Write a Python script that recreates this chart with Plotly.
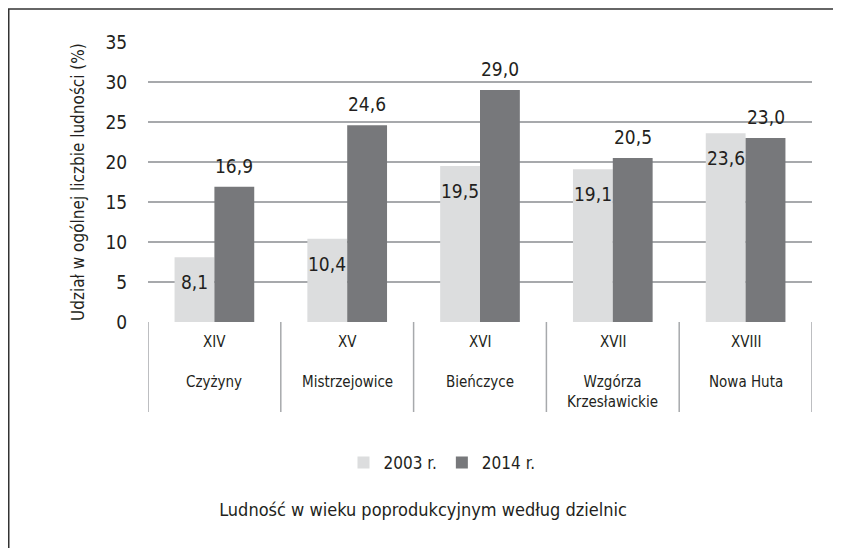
import plotly.graph_objects as go

roman = ["XIV", "XV", "XVI", "XVII", "XVIII"]
districts = ["Czyżyny", "Mistrzejowice", "Bieńczyce", "Wzgórza<br>Krzesławickie", "Nowa Huta"]
vals_2003 = [8.1, 10.4, 19.5, 19.1, 23.6]
vals_2014 = [16.9, 24.6, 29.0, 20.5, 23.0]
series_names = ["2003 r.", "2014 r."]
y_ticks = [0, 5, 10, 15, 20, 25, 30, 35]
y_title = "Udział w ogólnej liczbie ludności (%)"
chart_title = "Ludność w wieku poprodukcyjnym według dzielnic"

FONT = "Liberation Sans Narrow, DejaVu Sans Condensed, sans-serif"
TXT = "#231f20"
LIGHT = "#dcddde"
DARK = "#77787b"
GRID = "#a7a9ac"

W, H = 841, 548
OFF = 8  # page body margin of the browser
# target screen pixel positions of the plot area
SL, SR, ST, SB = 148, 812, 42, 322
L, R, T, B = SL - OFF, SR - OFF, ST - OFF, SB - OFF
pw, ph = R - L, B - T


def px_x(p):  # screen x -> paper x
    return (p - OFF - L) / pw


def px_y(p):  # screen y -> paper y
    return (B - (p - OFF)) / ph


BARGAP = 0.4
cats = list(range(len(roman)))

fig = go.Figure()
fig.add_trace(go.Bar(x=cats, y=vals_2003, name=series_names[0], marker_color=LIGHT,
                     marker_line_width=0))
fig.add_trace(go.Bar(x=cats, y=vals_2014, name=series_names[1], marker_color=DARK,
                     marker_line_width=0))

half = (1 - BARGAP) / 4
annotations = []
for i, (a, b) in enumerate(zip(vals_2003, vals_2014)):
    annotations.append(dict(x=i - half, y=a, xref="x", yref="y", text=f"{a:.1f}".replace(".", ","),
                            showarrow=False, yshift=-25, font=dict(size=19, color=TXT, family=FONT)))
    annotations.append(dict(x=i + half, y=b, xref="x", yref="y", text=f"{b:.1f}".replace(".", ","),
                            showarrow=False, yshift=21, font=dict(size=19, color=TXT, family=FONT)))
    annotations.append(dict(x=i, y=px_y(342), xref="x", yref="paper", text=roman[i],
                            showarrow=False, yanchor="middle", font=dict(size=15, color=TXT, family=FONT)))
    annotations.append(dict(x=i, y=px_y(371), xref="x", yref="paper", text=districts[i],
                            showarrow=False, yanchor="top", font=dict(size=15, color=TXT, family=FONT)))

annotations.append(dict(x=px_x(66), y=0.5, xref="paper", yref="paper", text=y_title, textangle=-90,
                        showarrow=False, font=dict(size=17, color=TXT, family=FONT)))

shapes = []
for i in range(len(roman) + 1):
    shapes.append(dict(type="line", xref="x", yref="paper", x0=i - 0.5, x1=i - 0.5,
                       y0=0, y1=px_y(412), line=dict(color=GRID, width=1.5)))
# outer frame (left and top edges)
shapes.append(dict(type="line", xref="paper", yref="paper", x0=px_x(8.75), x1=px_x(8.75),
                   y0=px_y(9), y1=px_y(570), line=dict(color="#333333", width=1.5)))
shapes.append(dict(type="line", xref="paper", yref="paper", x0=px_x(8), x1=px_x(870),
                   y0=px_y(9), y1=px_y(9), line=dict(color="#333333", width=1.5)))

fig.update_layout(
    width=W, height=H,
    margin=dict(l=L, r=W - R, t=T, b=H - B, autoexpand=False),
    paper_bgcolor="white", plot_bgcolor="white",
    barmode="group", bargap=BARGAP, bargroupgap=0,
    font=dict(family=FONT, color=TXT, size=18),
    title=dict(text=chart_title, x=(423 - OFF) / W, xref="container", y=1 - (510 - OFF) / H,
               yref="container", xanchor="center", yanchor="middle",
               font=dict(size=18, color=TXT, family=FONT)),
    xaxis=dict(range=[-0.5, len(roman) - 0.5], showticklabels=False, showgrid=False,
               zeroline=False, showline=False, ticks="", fixedrange=True),
    yaxis=dict(range=[0, 35], tickvals=y_ticks, showgrid=True, gridcolor=GRID, gridwidth=1.5,
               zeroline=False, showline=False, ticks="outside", ticklen=16,
               tickcolor="rgba(0,0,0,0)", tickfont=dict(size=19, color=TXT, family=FONT)),
    legend=dict(orientation="h", x=px_x(442), xanchor="center", y=px_y(463), yanchor="middle",
                font=dict(size=17, color=TXT, family=FONT), itemwidth=30, traceorder="normal",
                bgcolor="rgba(0,0,0,0)"),
    annotations=annotations,
    shapes=shapes,
    showlegend=True,
)

fig.write_html("out.html")
